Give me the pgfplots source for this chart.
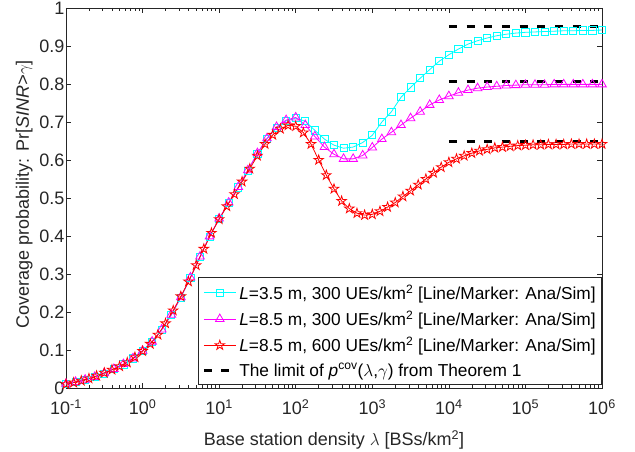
\documentclass[border=0pt]{standalone}
\usepackage{pgfplots}
\pgfplotsset{compat=1.18}
\usepackage{pgfplotstable}
\usepackage{fontspec}
\setmainfont{Liberation Sans}
\usetikzlibrary{calc}

\definecolor{axgray}{rgb}{0.15,0.15,0.15}
\definecolor{mcyan}{rgb}{0,1,1}
\definecolor{mmag}{rgb}{1,0,1}
\definecolor{mred}{rgb}{1,0,0}

% five-pointed star outline (MATLAB 'p' marker)
\pgfdeclareplotmark{pstar}{%
  \pgfpathmoveto{\pgfpointpolar{90}{\pgfplotmarksize}}%
  \pgfpathlineto{\pgfpointpolar{126}{0.382\pgfplotmarksize}}%
  \pgfpathlineto{\pgfpointpolar{162}{\pgfplotmarksize}}%
  \pgfpathlineto{\pgfpointpolar{198}{0.382\pgfplotmarksize}}%
  \pgfpathlineto{\pgfpointpolar{234}{\pgfplotmarksize}}%
  \pgfpathlineto{\pgfpointpolar{270}{0.382\pgfplotmarksize}}%
  \pgfpathlineto{\pgfpointpolar{306}{\pgfplotmarksize}}%
  \pgfpathlineto{\pgfpointpolar{342}{0.382\pgfplotmarksize}}%
  \pgfpathlineto{\pgfpointpolar{18}{\pgfplotmarksize}}%
  \pgfpathlineto{\pgfpointpolar{54}{0.382\pgfplotmarksize}}%
  \pgfpathclose\pgfusepathqstroke}

% lx = log10(lambda)
\pgfplotstableread{
lx y
-1.000 0.010
-0.875 0.016
-0.750 0.021
-0.625 0.029
-0.500 0.038
-0.375 0.050
-0.250 0.062
-0.125 0.078
0.000 0.098
0.125 0.122
0.250 0.153
0.375 0.192
0.500 0.238
0.625 0.290
0.750 0.345
0.875 0.398
1.000 0.445
1.125 0.487
1.250 0.528
1.375 0.572
1.500 0.617
1.625 0.656
1.750 0.685
1.875 0.703
2.000 0.710
2.125 0.702
2.250 0.678
2.375 0.655
2.500 0.639
2.625 0.631
2.750 0.634
2.875 0.646
3.000 0.665
3.125 0.700
3.250 0.727
3.375 0.765
3.500 0.791
3.625 0.815
3.750 0.838
3.875 0.860
4.000 0.877
4.125 0.892
4.250 0.905
4.375 0.914
4.500 0.921
4.625 0.927
4.750 0.931
4.875 0.934
5.000 0.936
5.125 0.937
5.250 0.938
5.375 0.939
5.500 0.940
5.625 0.940
5.750 0.941
5.875 0.941
6.000 0.942
}\cyandata

\pgfplotstableread{
lx y
-1.000 0.011
-0.875 0.016
-0.750 0.022
-0.625 0.029
-0.500 0.039
-0.375 0.050
-0.250 0.063
-0.125 0.078
0.000 0.098
0.125 0.122
0.250 0.154
0.375 0.193
0.500 0.239
0.625 0.291
0.750 0.346
0.875 0.399
1.000 0.446
1.125 0.488
1.250 0.529
1.375 0.573
1.500 0.618
1.625 0.657
1.750 0.687
1.875 0.705
2.000 0.712
2.125 0.692
2.250 0.662
2.375 0.634
2.500 0.615
2.625 0.603
2.750 0.603
2.875 0.612
3.000 0.633
3.125 0.655
3.250 0.673
3.375 0.692
3.500 0.710
3.625 0.727
3.750 0.745
3.875 0.758
4.000 0.768
4.125 0.777
4.250 0.784
4.375 0.789
4.500 0.792
4.625 0.794
4.750 0.796
4.875 0.797
5.000 0.798
5.125 0.798
5.250 0.798
5.375 0.799
5.500 0.799
5.625 0.799
5.750 0.799
5.875 0.799
6.000 0.799
}\magdata

\pgfplotstableread{
lx y
-1.0 0.010
-0.9 0.014
-0.8 0.019
-0.7 0.025
-0.6 0.032
-0.5 0.040
-0.4 0.048
-0.3 0.057
-0.2 0.067
-0.1 0.081
0.0 0.097
0.1 0.116
0.2 0.140
0.3 0.170
0.4 0.204
0.5 0.241
0.6 0.280
0.7 0.323
0.8 0.366
0.9 0.408
1.0 0.444
1.1 0.478
1.2 0.510
1.3 0.543
1.4 0.577
1.5 0.611
1.6 0.642
1.7 0.666
1.8 0.682
1.9 0.691
2.0 0.689
2.1 0.672
2.2 0.642
2.3 0.600
2.4 0.560
2.5 0.524
2.6 0.492
2.7 0.472
2.8 0.460
2.9 0.455
3.0 0.457
3.1 0.465
3.2 0.476
3.3 0.488
3.4 0.504
3.5 0.519
3.6 0.535
3.7 0.550
3.8 0.566
3.9 0.581
4.0 0.594
4.1 0.603
4.2 0.611
4.3 0.618
4.4 0.624
4.5 0.628
4.6 0.632
4.7 0.634
4.8 0.636
4.9 0.638
5.0 0.639
5.1 0.640
5.2 0.640
5.3 0.641
5.4 0.641
5.5 0.641
5.6 0.642
5.7 0.642
5.8 0.642
5.9 0.642
6.0 0.642
}\reddata

\begin{document}
\begin{tikzpicture}
\begin{axis}[
  name=ax,
  scale only axis,
  width=536pt, height=380pt,
  xmode=log,
  xmin=1e-1, xmax=1e6,
  ymin=0, ymax=1,
  font=\fontsize{18}{21.6}\selectfont,
  xtick={1e-1,1,10,100,1000,1e4,1e5,1e6},
  xticklabels={10\textsuperscript{-1},10\textsuperscript{0},10\textsuperscript{1},10\textsuperscript{2},10\textsuperscript{3},10\textsuperscript{4},10\textsuperscript{5},10\textsuperscript{6}},
  minor xtick={0.2,0.3,0.4,0.5,0.6,0.7,0.8,0.9,
    2,3,4,5,6,7,8,9,20,30,40,50,60,70,80,90,
    200,300,400,500,600,700,800,900,
    2000,3000,4000,5000,6000,7000,8000,9000,
    2e4,3e4,4e4,5e4,6e4,7e4,8e4,9e4,
    2e5,3e5,4e5,5e5,6e5,7e5,8e5,9e5},
  ytick={0,0.1,0.2,0.3,0.4,0.5,0.6,0.7,0.8,0.9,1},
  yticklabels={0,0.1,0.2,0.3,0.4,0.5,0.6,0.7,0.8,0.9,1},
  tick align=inside,
  major tick length=5.4pt,
  minor tick length=3pt,
  axis line style={axgray, line width=0.6pt},
  every tick/.style={axgray, line width=0.6pt},
  tick label style={text=axgray},
  xticklabel style={yshift=-8pt},
  yticklabel style={xshift=2pt},
  xlabel={Base station density $\lambda$ [BSs/km\textsuperscript{2}]},
  ylabel={Coverage probability: Pr[\textit{SINR>}$\gamma$]},
  label style={text=axgray},
  xlabel style={at={(axis description cs:0.5,-0.137)}, anchor=center},
  ylabel style={at={(axis description cs:-0.078,0.51)}, anchor=center},
  legend style={
    at={(1,0.008)}, anchor=south east,
    draw=axgray, line width=0.6pt, fill=white,
    font=\fontsize{17.3}{20.8}\selectfont,
    cells={anchor=west},
    row sep=6pt,
    inner xsep=4pt, inner ysep=5pt,
  },
  legend image code/.code={%
    \draw[mark repeat=2,mark phase=2] plot coordinates {(0pt,0pt) (16pt,0pt) (32pt,0pt)};},
]
\addplot[mcyan, line width=0.8pt, mark=square, mark size=3.6pt]
  table[x expr={10^(\thisrow{lx})}, y=y] {\cyandata};
\addlegendentry{\textit{L}=3.5 m, 300 UEs/km\textsuperscript{2} [Line/Marker: Ana/Sim]}
\addplot[mmag, line width=0.8pt, mark=triangle, mark size=5pt]
  table[x expr={10^(\thisrow{lx})}, y=y] {\magdata};
\addlegendentry{\textit{L}=8.5 m, 300 UEs/km\textsuperscript{2} [Line/Marker: Ana/Sim]}
\addplot[mred, line width=0.8pt, mark=pstar, mark size=5pt]
  table[x expr={10^(\thisrow{lx})}, y=y] {\reddata};
\addlegendentry{\textit{L}=8.5 m, 600 UEs/km\textsuperscript{2} [Line/Marker: Ana/Sim]}
\addplot[black, line width=3pt, dash pattern=on 8pt off 9.7pt]
  coordinates {(1e4,0.950) (1e6,0.950)};
\addlegendentry{The limit of \textit{p}\textsuperscript{cov}($\lambda$,$\gamma$) from Theorem 1}
\addplot[black, line width=3pt, dash pattern=on 8pt off 9.7pt, forget plot]
  coordinates {(1e4,0.806) (1e6,0.806)};
\addplot[black, line width=3pt, dash pattern=on 8pt off 9.7pt, forget plot]
  coordinates {(1e4,0.648) (1e6,0.648)};
\end{axis}
\pgfresetboundingbox
\path[use as bounding box] ($(ax.south west)+(-66pt,-64pt)$) rectangle ($(ax.north east)+(33pt,8pt)$);
\end{tikzpicture}
\end{document}
